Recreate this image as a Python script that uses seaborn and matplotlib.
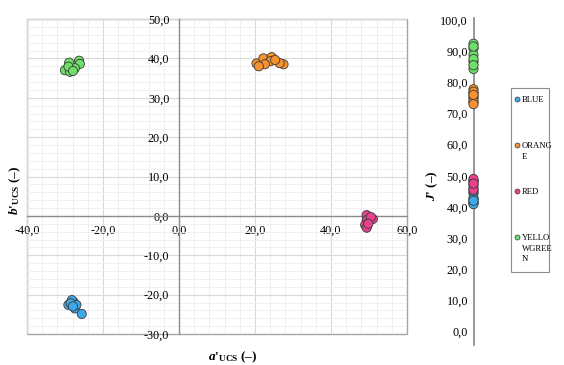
import numpy as np
import pandas as pd
import seaborn as sns
import matplotlib.pyplot as plt
from matplotlib.ticker import MultipleLocator, FuncFormatter
from matplotlib.lines import Line2D
from matplotlib.patches import Rectangle
from matplotlib.legend_handler import HandlerLine2D

# colour groups and their legend text (wrapped as in the original)
groups = ["BLUE", "ORANGE", "RED", "YELLOWGREEN"]
legend_labels = ["BLUE\n\n", "ORANG\nE\n", "RED\n\n", "YELLO\nWGREE\nN"]
colors = ["#3fa9e8", "#f5922f", "#e8418f", "#6fdf6a"]

# a'UCS, b'UCS, J' per sample
blue_a = [-27.8, -29.1, -27.4, -25.6, -28.2, -27.0, -28.5, -27.9]
blue_b = [-21.8, -22.6, -23.5, -24.9, -21.4, -22.6, -22.2, -23.0]
blue_J = [41.2, 41.6, 42.5, 44.4, 43.0, 45.0, 40.9, 42.0]

orange_a = [20.4, 22.2, 24.4, 24.1, 27.5, 26.5, 22.6, 21.0, 25.3]
orange_b = [38.7, 40.0, 40.3, 39.3, 38.5, 38.8, 38.5, 38.0, 39.6]
orange_J = [77.8, 76.5, 74.9, 73.5, 75.5, 77.0, 74.0, 76.0, 73.0]

red_a = [49.4, 51.0, 49.4, 49.0, 49.4, 50.5, 49.8]
red_b = [0.2, -0.8, -1.1, -2.3, -3.0, -0.3, -2.0]
red_J = [48.5, 47.1, 46.0, 48.1, 45.5, 49.0, 47.5]

green_a = [-28.9, -26.3, -26.1, -30.0, -28.7, -27.4, -29.1, -27.9]
green_b = [38.9, 39.4, 38.6, 37.0, 36.6, 37.5, 37.9, 36.8]
green_J = [92.4, 90.9, 88.8, 86.6, 84.3, 91.5, 87.5, 85.5]

frames = []
for g, a, b, j in zip(groups,
                      [blue_a, orange_a, red_a, green_a],
                      [blue_b, orange_b, red_b, green_b],
                      [blue_J, orange_J, red_J, green_J]):
    frames.append(pd.DataFrame({"group": g, "a": a, "b": b, "J": j}))
df = pd.concat(frames, ignore_index=True)
df["pos"] = 0.0
palette = dict(zip(groups, colors))

sns.set_theme(style="white")
plt.rcParams["font.family"] = ["Liberation Serif", "DejaVu Serif"]
plt.rcParams["mathtext.fontset"] = "custom"
plt.rcParams["mathtext.rm"] = "Liberation Serif"
plt.rcParams["mathtext.it"] = "Liberation Serif:italic:bold"
plt.rcParams["mathtext.bf"] = "Liberation Serif:bold"

W, H = 564, 365
fig = plt.figure(figsize=(W / 100, H / 100), dpi=100)


def comma(v, pos):
    return f"{v:.1f}".replace(".", ",")


axis_col = "#8c8c8c"
txt_col = "#000000"
tick_fs = 8.7

# main a'-b' plane
ax = fig.add_axes([27 / W, 1 - 334 / H, 380 / W, 315 / H])
sns.scatterplot(data=df, x="a", y="b", hue="group", palette=palette, s=44,
                edgecolor="#3a3a3a", linewidth=0.6, legend=False, ax=ax, zorder=3)
ax.set_xlim(-40, 60)
ax.set_ylim(-30, 50)
ax.xaxis.set_major_locator(MultipleLocator(20))
ax.xaxis.set_minor_locator(MultipleLocator(4))
ax.yaxis.set_major_locator(MultipleLocator(10))
ax.yaxis.set_minor_locator(MultipleLocator(2))
ax.xaxis.set_major_formatter(FuncFormatter(comma))
ax.yaxis.set_major_formatter(FuncFormatter(comma))
ax.grid(which="major", color="#d9d9d9", lw=0.8)
ax.grid(which="minor", color="#eeeeee", lw=0.6)
ax.set_axisbelow(True)
ax.spines["left"].set_position(("data", 0))
ax.spines["bottom"].set_position(("data", 0))
for s in ["left", "bottom"]:
    ax.spines[s].set_color(axis_col)
    ax.spines[s].set_linewidth(1.0)
ax.spines["top"].set_visible(False)
ax.spines["right"].set_visible(False)
ax.add_patch(Rectangle((0, 0), 1, 1, transform=ax.transAxes, fill=False,
                       edgecolor="#a6a6a6", lw=1.0, clip_on=False, zorder=0.5))
ax.tick_params(which="major", direction="out", length=3, color=axis_col,
               labelsize=tick_fs, labelcolor=txt_col)
ax.tick_params(axis="x", pad=3.5)
ax.tick_params(axis="y", pad=4)
ax.tick_params(which="minor", length=0)
ax.set_xlabel("")
ax.set_ylabel("")

fig.text(15 / W, 1 - 190 / H, r"$b$'$_{\mathbf{UCS}}$ (–)", rotation=90,
         ha="center", va="center", fontsize=9.5, fontweight="bold", color=txt_col)
fig.text(233 / W, 1 - 357 / H, r"$a$'$_{\mathbf{UCS}}$ (–)",
         ha="center", va="center", fontsize=9.5, fontweight="bold", color=txt_col)

# J' strip
ax2 = fig.add_axes([466 / W, 1 - 345 / H, 15 / W, 326.5 / H])
ax2.patch.set_alpha(0)
sns.scatterplot(data=df, x="pos", y="J", hue="group", palette=palette, s=44,
                edgecolor="#3a3a3a", linewidth=0.6, legend=False, ax=ax2,
                zorder=3, clip_on=False)
ax2.set_xlim(-1, 1)
ax2.set_ylim(-4.3, 100.5)
ax2.yaxis.set_major_locator(MultipleLocator(10))
ax2.yaxis.set_major_formatter(FuncFormatter(comma))
for s in ["top", "right", "bottom"]:
    ax2.spines[s].set_visible(False)
ax2.spines["left"].set_position(("axes", 0.5))
ax2.spines["left"].set_color(axis_col)
ax2.set_xticks([])
ax2.tick_params(axis="y", direction="inout", length=6, color=axis_col,
                labelsize=tick_fs, labelcolor=txt_col, pad=1)
ax2.set_xlabel("")
ax2.set_ylabel("")
fig.text(432 / W, 1 - 186 / H, r"$J$' (–)", rotation=90,
         ha="center", va="center", fontsize=9.5, fontweight="bold", color=txt_col)


class FirstLineHandler(HandlerLine2D):
    def __init__(self, lift, **kw):
        super().__init__(**kw)
        self.lift = lift

    def create_artists(self, legend, orig_handle, xdescent, ydescent,
                       width, height, fontsize, trans):
        arts = super().create_artists(legend, orig_handle, xdescent, ydescent,
                                      width, height, fontsize, trans)
        for a in arts:
            a.set_ydata(np.asarray(a.get_ydata(), float) + self.lift)
        return arts


# legend box as drawn in the original
fig.patches.append(Rectangle((510.7 / W, 1 - 271.7 / H), 38.6 / W, 183.4 / H,
                             transform=fig.transFigure, fill=False,
                             edgecolor=axis_col, lw=0.8))

leg_fs = 6.2
line_sp = 1.43
handles = [Line2D([], [], ls="none", marker="o", markersize=3.6,
                  markerfacecolor=c, markeredgecolor="#3a3a3a",
                  markeredgewidth=0.5) for c in colors]
leg = fig.legend(handles, legend_labels, loc="upper left",
                 bbox_to_anchor=(514.6 / W, 1 - 96 / H), borderaxespad=0,
                 fontsize=leg_fs, frameon=False, borderpad=0,
                 labelspacing=1.96, handlelength=0.5, handletextpad=0.3,
                 handler_map={Line2D: FirstLineHandler(0.81 * leg_fs * line_sp + 1.3)})
for t in leg.get_texts():
    t.set_linespacing(line_sp)
    t.set_color(txt_col)

fig.savefig("out.png", dpi=100)
